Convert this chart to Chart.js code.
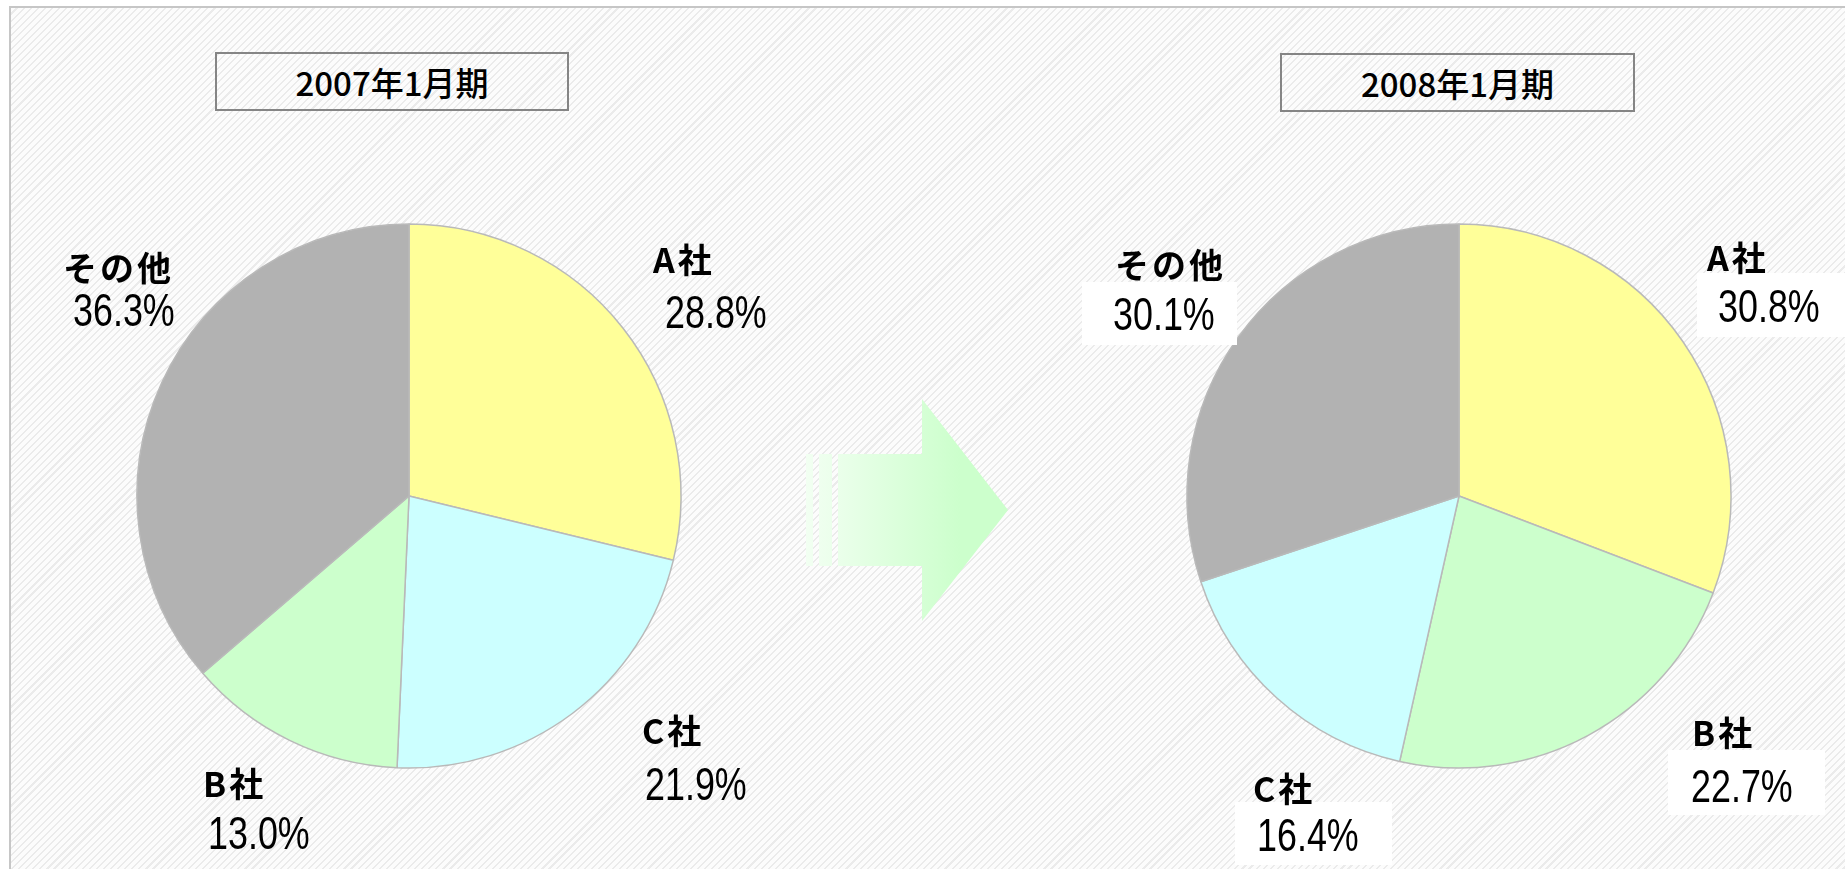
<!DOCTYPE html>
<html>
<head>
<meta charset="utf-8">
<script src="https://cdn.jsdelivr.net/npm/chart.js@4.4.1/dist/chart.umd.min.js"></script>
<style>
  html, body { margin: 0; padding: 0; background: #fff; overflow: hidden; }
  #stage { position: relative; width: 1845px; height: 869px; overflow: hidden; }
  #frame {
    position: absolute; left: 9px; top: 6px; width: 1860px; height: 890px;
    border-left: 2px solid #c6c6c6; border-top: 2px solid #c6c6c6;
    background: repeating-linear-gradient(135deg, #fcfcfc 0px, #fcfcfc 3.5px, #ebebeb 3.5px, #ebebeb 5px);
  }
  .title {
    position: absolute; box-sizing: border-box; border: 2px solid #858585;
    display: flex; align-items: center; justify-content: center;
    font: 500 33px "Noto Sans CJK JP", sans-serif; color: #000;
  }
  canvas { position: absolute; left: 0; top: 0; }
</style>
</head>
<body>
<div id="stage">
  <div id="frame"></div>
  <svg width="1845" height="869" style="position:absolute;left:0;top:0">
    <defs>
      <linearGradient id="arrowFill" gradientUnits="userSpaceOnUse" x1="806" y1="0" x2="960" y2="0">
        <stop offset="0" stop-color="#f2fff2"/>
        <stop offset="1" stop-color="#ccffcc"/>
      </linearGradient>
    </defs>
    <rect x="806" y="454" width="7" height="112" fill="url(#arrowFill)"/>
    <rect x="819" y="454" width="13" height="112" fill="url(#arrowFill)"/>
    <polygon points="838,454 922,454 922,399 1008,510 922,621 922,566 838,566" fill="url(#arrowFill)"/>
  </svg>
  <div class="title" style="left:215px;top:52px;width:354px;height:59px">2007年1月期</div>
  <div class="title" style="left:1280px;top:53px;width:355px;height:59px">2008年1月期</div>
  <canvas id="pie2007" width="1845" height="869"></canvas>
  <canvas id="pie2008" width="1845" height="869"></canvas>
</div>

<script>
// 2007年1月期（時計回り、12時から）
const labels2007 = ['A社', 'C社', 'B社', 'その他'];
const values2007 = [28.8, 21.9, 13.0, 36.3];

// 2008年1月期
const labels2008 = ['A社', 'B社', 'C社', 'その他'];
const values2008 = [30.8, 22.7, 16.4, 30.1];

const companyColors = {
  'A社': '#ffff99',
  'B社': '#ccffcc',
  'C社': '#ccffff',
  'その他': '#b2b2b2'
};

// label placement, offsets from the pie centre: name [dx, dy], pct [dx, dy], optional white box [dx, dy, w, h]
const layout2007 = [
  { name: [244, -236], pct: [256, -183] },
  { name: [233, 235], pct: [236, 289] },
  { name: [-206, 288], pct: [-201, 338] },
  { name: [-346, -228], pct: [-336, -185] }
];
const layout2008 = [
  { name: [248, -238], pct: [259, -189], box: [238, -223, 160, 64] },
  { name: [233, 237], pct: [232, 291], box: [209, 254, 157, 65] },
  { name: [-206, 293], pct: [-202, 340], box: [-224, 306, 157, 63] },
  { name: [-344, -231], pct: [-346, -181], box: [-377, -214, 155, 63] }
];

const pieLabels = {
  id: 'pieLabels',
  afterDatasetsDraw(chart, args, opts) {
    const ctx = chart.ctx;
    const meta = chart.getDatasetMeta(0);
    const values = chart.data.datasets[0].data;
    meta.data.forEach((arc, i) => {
      const pos = opts.items[i];
      if (!pos) return;
      const cx = arc.x, cy = arc.y;
      ctx.save();
      if (pos.box) {
        ctx.fillStyle = '#ffffff';
        ctx.fillRect(cx + pos.box[0], cy + pos.box[1], pos.box[2], pos.box[3]);
      }
      ctx.fillStyle = '#000';
      ctx.textAlign = 'left';
      ctx.textBaseline = 'middle';
      ctx.font = 'bold 34px "Noto Sans CJK JP"';
      ctx.letterSpacing = '3px';
      ctx.fillText(chart.data.labels[i], cx + pos.name[0], cy + pos.name[1]);
      ctx.letterSpacing = '0px';
      ctx.font = '46px "Liberation Sans"';
      ctx.translate(cx + pos.pct[0], cy + pos.pct[1]);
      ctx.scale(0.78, 1);
      ctx.fillText(values[i].toFixed(1) + '%', 0, 2);
      ctx.restore();
    });
  }
};

function makePie(id, labels, values, padding, items) {
  return new Chart(document.getElementById(id), {
    type: 'pie',
    data: {
      labels,
      datasets: [{
        data: values,
        backgroundColor: labels.map(l => companyColors[l]),
        borderColor: '#b9b9b9',
        borderWidth: 1.5,
        radius: 272,
        hoverOffset: 0
      }]
    },
    options: {
      responsive: false,
      animation: false,
      layout: { padding },
      plugins: {
        legend: { display: false },
        tooltip: { enabled: false },
        pieLabels: { items }
      }
    },
    plugins: [pieLabels]
  });
}

makePie('pie2007', labels2007, values2007, { left: 0, right: 1027, top: 123, bottom: 0 }, layout2007);
makePie('pie2008', labels2008, values2008, { left: 1073, right: 0, top: 123, bottom: 0 }, layout2008);
</script>
</body>
</html>
